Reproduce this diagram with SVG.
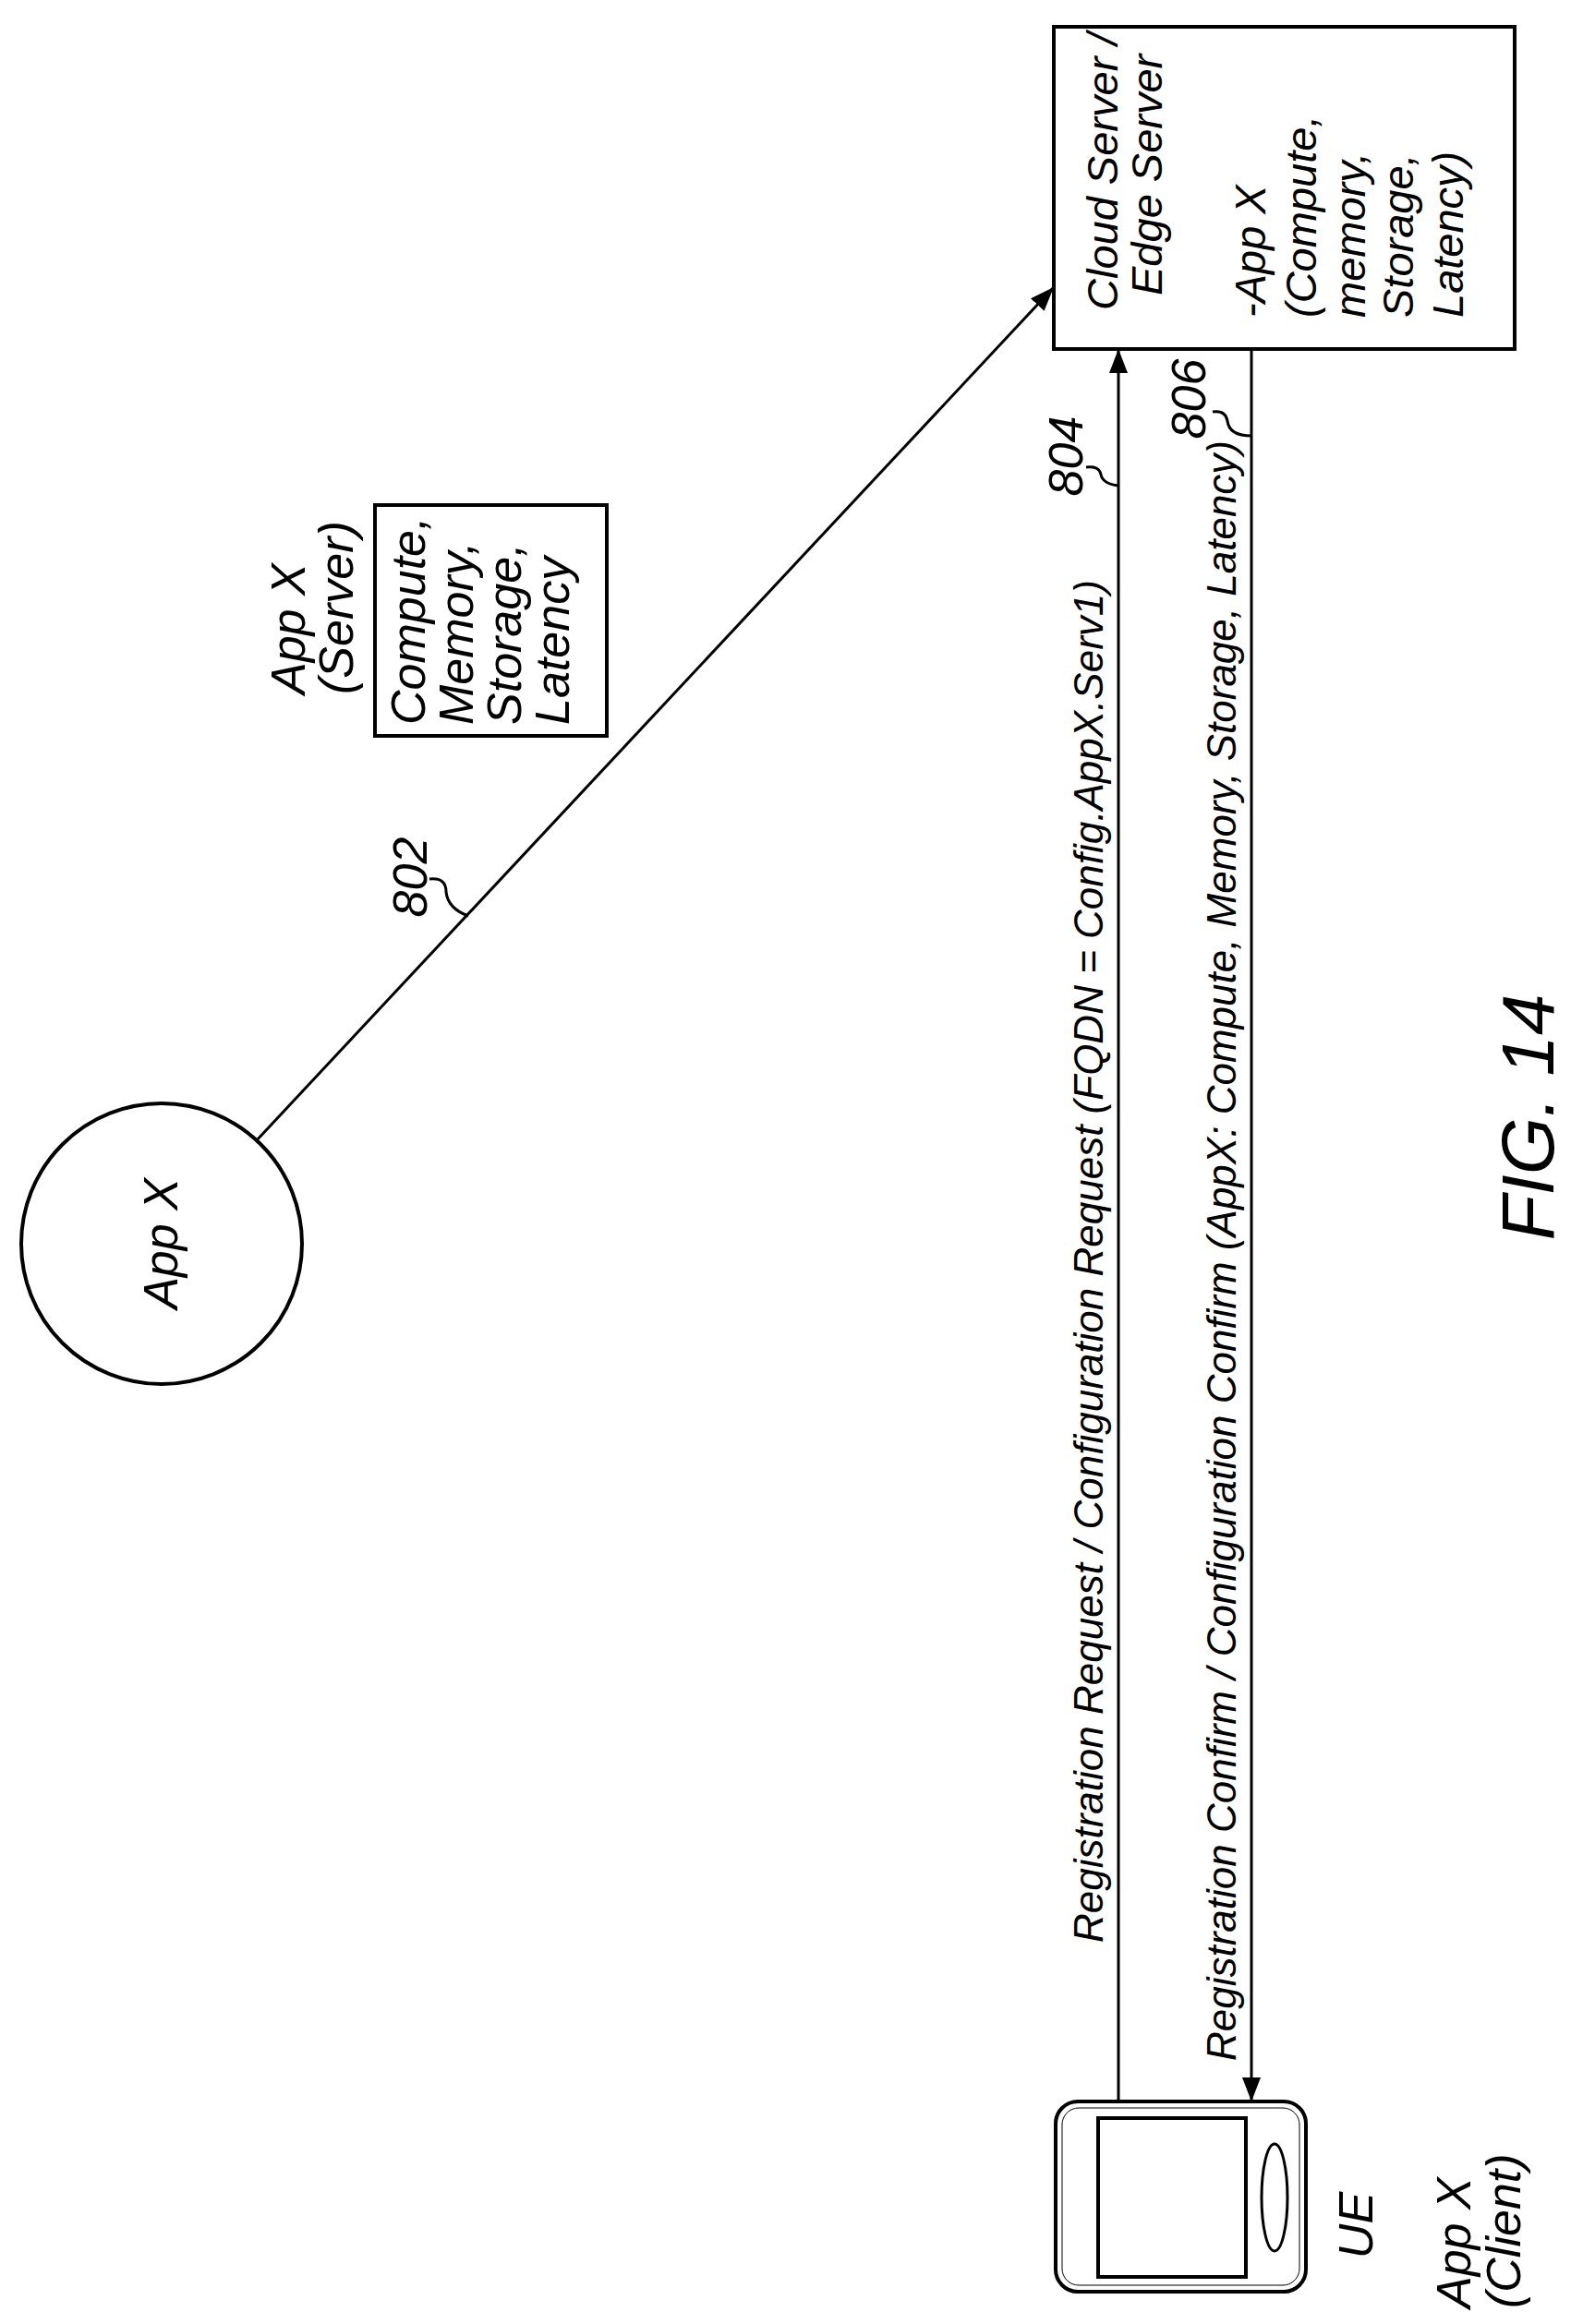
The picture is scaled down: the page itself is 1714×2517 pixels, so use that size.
<svg xmlns="http://www.w3.org/2000/svg" width="1714" height="2517" viewBox="0 0 1714 2517">
<style>
text{font-family:"Liberation Sans",Arial,sans-serif;font-style:italic;font-size:52px;fill:#000}
.m{font-size:44px}
.c{font-size:47px}
.s{fill:none;stroke:#000;stroke-width:3}
.b{fill:#fff;stroke:#000;stroke-width:4}
</style>
<defs>
<marker id="a" viewBox="0 0 26 20" refX="26" refY="10" markerWidth="26" markerHeight="20" markerUnits="userSpaceOnUse" orient="auto"><path d="M0,0 L26,10 L0,20 z" fill="#000"/></marker>
</defs>
<g id="connectors">
<line x1="263" y1="1251" x2="1141" y2="311" class="s" marker-end="url(#a)"/>
<line x1="1211" y1="2276" x2="1211" y2="378" class="s" stroke-width="4" marker-end="url(#a)"/>
<line x1="1355" y1="378" x2="1355" y2="2276" class="s" marker-end="url(#a)"/>
<path d="M465,952 q18,-2 18,14 q2,18 24,26" class="s" stroke-width="2"/>
<path d="M1176,506 q14,-2 16,8 q2,10 19,12" class="s" stroke-width="2"/>
<path d="M1313,446 q14,-2 16,10 q2,16 26,16" class="s" stroke-width="2"/>
<text class="m" transform="translate(1194,2104) rotate(-90)">Registration Request / Configuration Request (FQDN = Config.AppX.Serv1)</text>
<text class="m" transform="translate(1338,2232) rotate(-90)">Registration Confirm / Configuration Confirm (AppX: Compute, Memory, Storage, Latency)</text>
<text transform="translate(462,950) rotate(-90)" text-anchor="middle">802</text>
<text transform="translate(1172,494) rotate(-90)" text-anchor="middle">804</text>
<text transform="translate(1305,432) rotate(-90)" text-anchor="middle">806</text>
</g>
<g id="cloud-server">
<rect x="1141" y="29" width="499" height="349" class="b"/>
<text class="c" transform="translate(1210,336) rotate(-90)">Cloud Server /</text>
<text class="c" transform="translate(1258,320) rotate(-90)">Edge Server</text>
<text class="c" transform="translate(1370,344) rotate(-90)">-App X</text>
<text class="c" transform="translate(1425,344) rotate(-90)">(Compute,</text>
<text class="c" transform="translate(1478,344) rotate(-90)">memory,</text>
<text class="c" transform="translate(1530,344) rotate(-90)">Storage,</text>
<text class="c" transform="translate(1584,344) rotate(-90)">Latency)</text>
</g>
<g id="app-x-circle">
<circle cx="175" cy="1347" r="152" class="b"/>
<text transform="translate(192,1347) rotate(-90)" text-anchor="middle">App X</text>
</g>
<g id="app-x-server">
<text transform="translate(330,752) rotate(-90)">App X</text>
<text transform="translate(382,752) rotate(-90)">(Server)</text>
<rect x="406" y="547" width="251" height="250" class="b"/>
<text transform="translate(460,785) rotate(-90)">Compute,</text>
<text transform="translate(512,785) rotate(-90)">Memory,</text>
<text transform="translate(564,785) rotate(-90)">Storage,</text>
<text transform="translate(616,785) rotate(-90)">Latency</text>
</g>
<g id="ue">
<rect x="1143" y="2276" width="271" height="206" rx="24" class="b" stroke-width="5"/>
<rect x="1150" y="2283" width="257" height="192" rx="18" fill="none" stroke="#000" stroke-width="1"/>
<rect x="1189" y="2294" width="160" height="172" fill="#fff" stroke="#000" stroke-width="4"/>
<ellipse cx="1380" cy="2380" rx="14" ry="58" fill="none" stroke="#000" stroke-width="3"/>
<text transform="translate(1486,2410) rotate(-90)" text-anchor="middle">UE</text>
<text transform="translate(1592,2500) rotate(-90)">App X</text>
<text transform="translate(1646,2500) rotate(-90)">(Client)</text>
</g>
<text transform="translate(1682,1210) rotate(-90)" text-anchor="middle" style="font-size:80px">FIG. 14</text>
</svg>
